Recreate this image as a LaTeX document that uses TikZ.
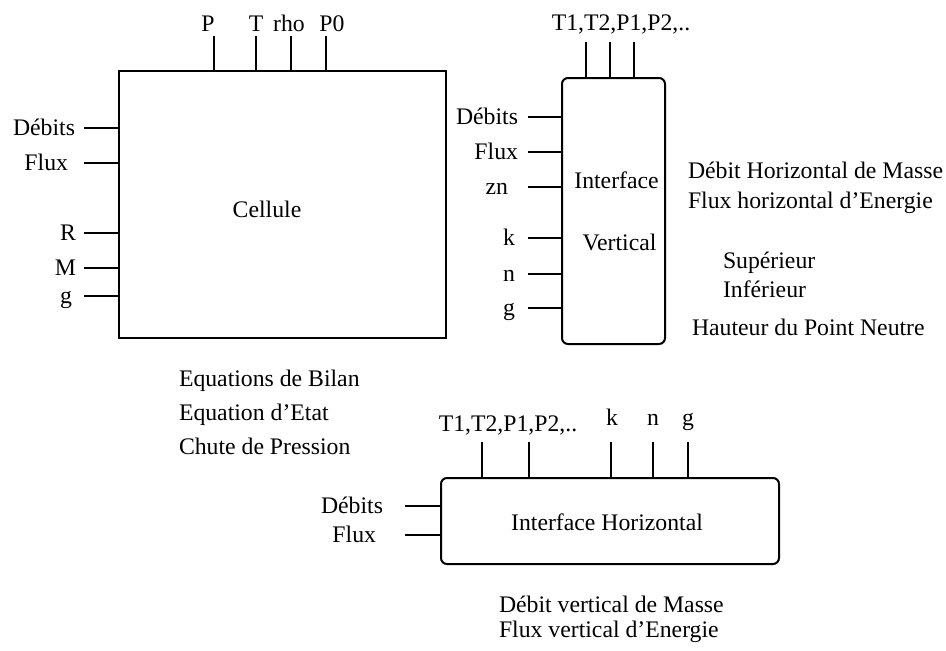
\documentclass[tikz,border=0pt]{standalone}
\usepackage{fontspec}
\setmainfont{Liberation Serif}
\begin{document}
\begin{tikzpicture}[x=0.75pt,y=-0.75pt,
  txt/.style={font=\fontsize{17.8}{21}\selectfont, inner sep=0pt, outer sep=0pt},
  lbl/.style={txt, anchor=base east},
  toplbl/.style={txt, anchor=base},
  lft/.style={txt, anchor=base west},
  boxsq/.style={draw, line width=1.5pt, inner sep=0pt, outer sep=0pt},
  boxrd/.style={boxsq, rounded corners=4.5pt},
  tick/.style={line width=0.9pt}]
\useasboundingbox (0,0) rectangle (946,650);
\fill[white] (0,0) rectangle (946,650);

% ---------- Cellule ----------
\node[boxsq, minimum width=245.25pt, minimum height=200.25pt] (cell) at (282.5,204.5) {};
\node[txt] (celltxt) at (267,209) {Cellule};
\node[toplbl] (cP) at (208,31) {P};
\node[toplbl] (cT) at (256,31) {T};
\node[toplbl] (cRho) at (289,31) {rho};
\node[toplbl] (cP0) at (332,31) {P0};
\coordinate (tP) at (214,36);
\coordinate (tT) at (256,36);
\coordinate (tRho) at (291,36);
\coordinate (tP0) at (326,36);
\foreach \c in {tP,tT,tRho,tP0} \draw[tick] (\c) -- (\c |- cell.north);
\node[lbl] (cDeb) at (75,135) {Débits};
\node[lbl] (cFlux) at (68,170) {Flux};
\node[lbl] (cR) at (76,240) {R};
\node[lbl] (cM) at (76,275) {M};
\node[lbl] (cg) at (72,303) {g};
\coordinate (lDeb) at (84,128);
\coordinate (lFlux) at (84,163);
\coordinate (lR) at (84,233);
\coordinate (lM) at (84,268);
\coordinate (lg) at (84,296);
\foreach \c in {lDeb,lFlux,lR,lM,lg} \draw[tick] (\c) -- (\c -| cell.west);
\node[lft] (eq1) at (179,386) {Equations de Bilan};
\node[lft] (eq2) at (179,420) {Equation d’Etat};
\node[lft] (eq3) at (179,454) {Chute de Pression};

% ---------- Interface Vertical ----------
\node[boxrd, minimum width=77.25pt, minimum height=199.5pt] (iv) at (613.5,211) {};
\node[toplbl] (ivT) at (621,30) {T1,T2,P1,P2,..};
\coordinate (v1) at (586,42);
\coordinate (v2) at (610,42);
\coordinate (v3) at (634,42);
\foreach \c in {v1,v2,v3} \draw[tick] (\c) -- (\c |- iv.north);
\node[txt, anchor=base] (ivt1) at (616.5,188) {Interface};
\node[txt, anchor=base] (ivt2) at (619.5,250) {Vertical};
\node[lbl] (vDeb) at (518,124) {Débits};
\node[lbl] (vFlux) at (518,159) {Flux};
\node[lbl] (vzn) at (508,194) {zn};
\node[lbl] (vk) at (515,245) {k};
\node[lbl] (vn) at (515,281) {n};
\node[lbl] (vg) at (515,315) {g};
\coordinate (wDeb) at (528,117);
\coordinate (wFlux) at (528,152);
\coordinate (wzn) at (528,187);
\coordinate (wk) at (528,238);
\coordinate (wn) at (528,274);
\coordinate (wg) at (528,308);
\foreach \c in {wDeb,wFlux,wzn,wk,wn,wg} \draw[tick] (\c) -- (\c -| iv.west);
\node[lft] (o1) at (688,178) {Débit Horizontal de Masse};
\node[lft] (o2) at (688,208) {Flux horizontal d’Energie};
\node[lft] (o3) at (723,268) {Supérieur};
\node[lft] (o4) at (723,297) {Inférieur};
\node[lft] (o5) at (692,335) {Hauteur du Point Neutre};

% ---------- Interface Horizontal ----------
\node[boxrd, minimum width=253.5pt, minimum height=64.5pt] (ih) at (610,521) {};
\node[txt, anchor=base] (ihtxt) at (607,530) {Interface Horizontal};
\node[toplbl] (hT) at (508,431) {T1,T2,P1,P2,..};
\node[toplbl] (hk) at (612,425) {k};
\node[toplbl] (hn) at (653,425) {n};
\node[toplbl] (hg) at (688,425) {g};
\coordinate (h1) at (482,442);
\coordinate (h2) at (529,442);
\coordinate (h3) at (611,442);
\coordinate (h4) at (653,442);
\coordinate (h5) at (688,442);
\foreach \c in {h1,h2,h3,h4,h5} \draw[tick] (\c) -- (\c |- ih.north);
\node[lbl] (hDeb) at (383,513) {Débits};
\node[lbl] (hFlux) at (376,542) {Flux};
\coordinate (kDeb) at (405,506);
\coordinate (kFlux) at (405,535);
\foreach \c in {kDeb,kFlux} \draw[tick] (\c) -- (\c -| ih.west);
\node[lft] (b1) at (499,612) {Débit vertical de Masse};
\node[lft] (b2) at (499,637) {Flux vertical d’Energie};
\end{tikzpicture}
\end{document}
